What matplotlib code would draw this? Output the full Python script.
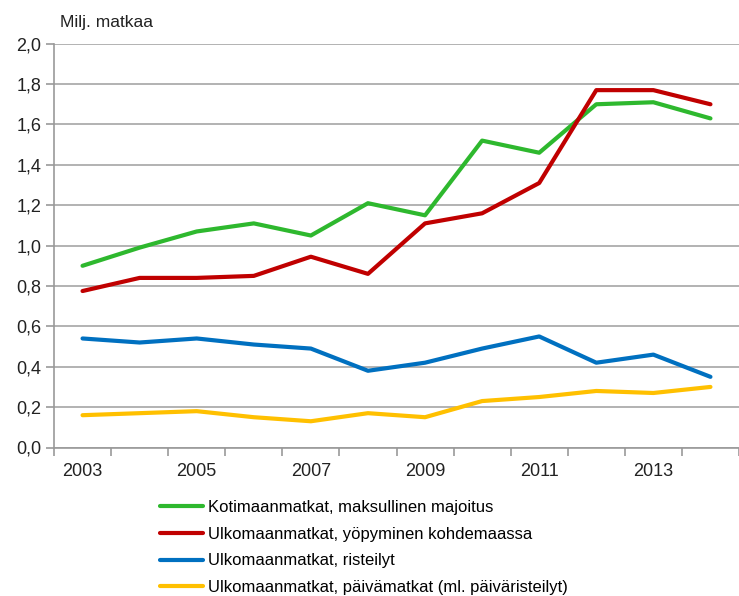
import matplotlib.pyplot as plt
import numpy as np

plt.rcParams['font.family'] = ['Liberation Sans', 'DejaVu Sans']

years = list(range(2003, 2015))
kotimaa = [0.90, 0.99, 1.07, 1.11, 1.05, 1.21, 1.15, 1.52, 1.46, 1.70, 1.71, 1.63]
ulko_yo = [0.775, 0.84, 0.84, 0.85, 0.945, 0.86, 1.11, 1.16, 1.31, 1.77, 1.77, 1.70]
risteilyt = [0.54, 0.52, 0.54, 0.51, 0.49, 0.38, 0.42, 0.49, 0.55, 0.42, 0.46, 0.35]
paiva = [0.16, 0.17, 0.18, 0.15, 0.13, 0.17, 0.15, 0.23, 0.25, 0.28, 0.27, 0.30]

labels = ['Kotimaanmatkat, maksullinen majoitus',
          'Ulkomaanmatkat, yöpyminen kohdemaassa',
          'Ulkomaanmatkat, risteilyt',
          'Ulkomaanmatkat, päivämatkat (ml. päiväristeilyt)']
colors = ['#2eb82e', '#c00000', '#0070c0', '#ffc000']

fig = plt.figure(figsize=(7.39, 5.96), dpi=100)
ax = fig.add_axes([54/739, 1 - 447.5/596, 1 - 54/739, (447.5 - 43.7)/596])

x = np.arange(len(years))
for vals, lab, c in zip([kotimaa, ulko_yo, risteilyt, paiva], labels, colors):
    ax.plot(x, vals, color=c, lw=3, label=lab, solid_capstyle='round', solid_joinstyle='round')

ax.set_ylim(0, 2.0)
ax.set_xlim(-0.5, 11.45)
yt = np.arange(0, 2.01, 0.2)
ax.set_yticks(yt)
ax.set_yticklabels([f'{v:.1f}'.replace('.', ',') for v in yt], fontsize=13, color='#222222')
ax.yaxis.grid(True, color='#a6a6a6', lw=1.2)
ax.set_axisbelow(True)

# category ticks sit between the years, labels on every other year
ax.set_xticks(np.arange(-0.5, 12, 1.0))
ax.set_xticklabels([])
ax.set_xticks(x[::2], minor=True)
ax.set_xticklabels([str(y) for y in years[::2]], minor=True, fontsize=13, color='#222222')
ax.tick_params(axis='x', which='minor', length=0, pad=11)
ax.tick_params(axis='x', which='major', length=6, color='#999999', width=1.2)
ax.tick_params(axis='y', length=6, color='#999999', width=1.2, pad=3)

for s in ['top', 'right']:
    ax.spines[s].set_visible(False)
for s in ['left', 'bottom']:
    ax.spines[s].set_color('#999999')
    ax.spines[s].set_linewidth(1.2)

fig.text(60/739, 1 - 22/596, 'Milj. matkaa', fontsize=12.5, color='#222222', va='center')

fig.legend(loc='upper left', bbox_to_anchor=(160/739, 1 - 500/596), frameon=False,
           fontsize=12, handlelength=2.6, handletextpad=0.25, labelspacing=0.7,
           borderpad=0, borderaxespad=0)

fig.savefig('out.png', dpi=100)
